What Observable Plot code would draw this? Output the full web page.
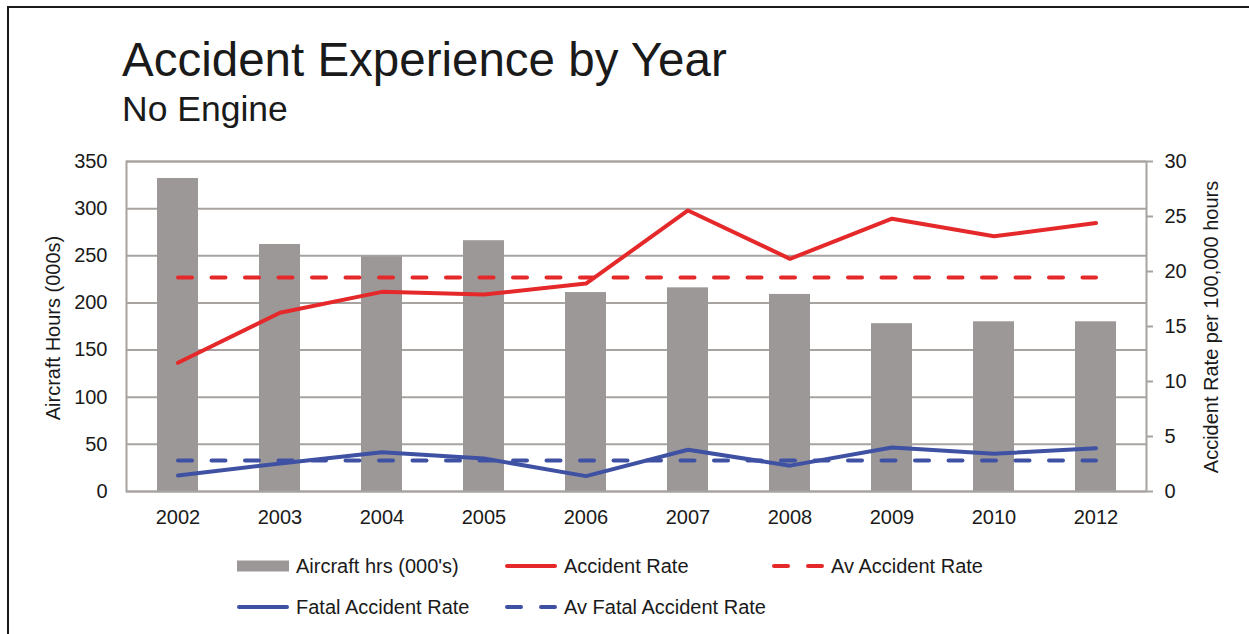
<!DOCTYPE html>
<html><head><meta charset="utf-8">
<script src="https://cdn.jsdelivr.net/npm/d3@7"></script>
<script src="https://cdn.jsdelivr.net/npm/@observablehq/plot@0.6"></script>
<style>
body{margin:0;background:#fff;font-family:"Liberation Sans",Arial,sans-serif;color:#1a1a1a;}
#wrap{position:relative;width:1249px;height:634px;overflow:hidden;background:#fff;}
#border{position:absolute;left:7px;top:6px;width:1300px;height:700px;border-left:2px solid #1a1a1a;border-top:2px solid #1a1a1a;}
#chart{position:absolute;left:0;top:0;}
.t{position:absolute;white-space:nowrap;line-height:1;}
#title{left:122px;top:36px;font-size:47.5px;}
#subtitle{left:122px;top:92px;font-size:35.5px;}
.ylab{position:absolute;white-space:nowrap;font-size:20px;line-height:1;transform:translate(-50%,-50%) rotate(-90deg);}
.leg{position:absolute;display:flex;align-items:center;height:22px;font-size:20px;white-space:nowrap;}
.leg svg{display:block;margin-right:7px;}
</style></head>
<body>
<div id="wrap">
  <div id="border"></div>
  <div id="chart"></div>
  <div class="t" id="title">Accident Experience by Year</div>
  <div class="t" id="subtitle">No Engine</div>
  <div class="ylab" style="left:53px;top:328px;">Aircraft Hours (000s)</div>
  <div class="ylab" style="left:1211px;top:327px;">Accident Rate per 100,000 hours</div>
  <div id="legend"></div>
</div>
<script>
// ---- data ----
const years = ["2002","2003","2004","2005","2006","2007","2008","2009","2010","2012"];
const aircraftHrs = [332, 262, 249, 266, 211, 216, 209, 178, 180, 180];
const accidentRate = [11.7, 16.25, 18.15, 17.9, 18.9, 25.55, 21.15, 24.8, 23.2, 24.4];
const avAccidentRate = 19.45;
const fatalRate = [1.45, 2.55, 3.57, 3.0, 1.4, 3.79, 2.35, 4.0, 3.43, 3.94];
const avFatalRate = 2.82;
const leftTicks = [0, 50, 100, 150, 200, 250, 300, 350];
const rightTicks = [0, 5, 10, 15, 20, 25, 30];
const legendLabels = ["Aircraft hrs (000's)", "Accident Rate", "Av Accident Rate", "Fatal Accident Rate", "Av Fatal Accident Rate"];

// ---- styles ----
const red = "#e5292b", blue = "#3f51a3", barColor = "#9c9897", grid = "#a7a3a1";
const k = 350 / 30; // right-axis (rate) to left-axis (hours) units

const data = years.map((y, i) => ({year: y, hrs: aircraftHrs[i], rate: accidentRate[i], fatal: fatalRate[i]}));

const chart = Plot.plot({
  width: 1249, height: 634,
  marginLeft: 126, marginRight: 103, marginTop: 161, marginBottom: 143,
  x: {type: "band", domain: years, paddingInner: 0.6, paddingOuter: 0.3, label: null},
  y: {domain: [0, 350], label: null},
  style: {fontFamily: "'Liberation Sans', Arial, sans-serif", fontSize: "20px", color: "#1a1a1a", background: "transparent", overflow: "visible"},
  marks: [
    Plot.gridY(leftTicks, {stroke: grid, strokeOpacity: 1, strokeWidth: 2}),
    Plot.barY(data, {x: "year", y: "hrs", fill: barColor}),
    Plot.frame({stroke: grid, strokeWidth: 2}),
    Plot.axisY(leftTicks, {anchor: "left", tickSize: 0, tickPadding: 19, label: null}),
    Plot.axisY(rightTicks.map(r => r * k), {anchor: "right", tickSize: 6, tickPadding: 12, stroke: grid, strokeWidth: 2, tickFormat: d => String(Math.round(d / k)), label: null}),
    Plot.axisX({tickSize: 0, tickPadding: 18, label: null}),
    Plot.lineY(data, {x: "year", y: d => d.rate * k, stroke: red, strokeWidth: 4}),
    Plot.lineY(data, {x: "year", y: () => avAccidentRate * k, stroke: red, strokeWidth: 4, strokeDasharray: "14 19.5", strokeLinecap: "round"}),
    Plot.lineY(data, {x: "year", y: d => d.fatal * k, stroke: blue, strokeWidth: 4}),
    Plot.lineY(data, {x: "year", y: () => avFatalRate * k, stroke: blue, strokeWidth: 4, strokeDasharray: "14 19.5", strokeLinecap: "round"})
  ]
});
document.getElementById("chart").appendChild(chart);

// ---- legend ----
function swatch(type, color) {
  const ns = "http://www.w3.org/2000/svg";
  const s = document.createElementNS(ns, "svg");
  s.setAttribute("width", 52); s.setAttribute("height", 14);
  if (type === "bar") {
    const r = document.createElementNS(ns, "rect");
    r.setAttribute("x", 0); r.setAttribute("y", 1.5); r.setAttribute("width", 52); r.setAttribute("height", 11);
    r.setAttribute("fill", color); s.appendChild(r);
  } else {
    const l = document.createElementNS(ns, "line");
    l.setAttribute("x1", 2); l.setAttribute("x2", 50);
    l.setAttribute("y1", 7); l.setAttribute("y2", 7);
    l.setAttribute("stroke", color); l.setAttribute("stroke-width", 4); l.setAttribute("stroke-linecap", "round");
    if (type === "dash") l.setAttribute("stroke-dasharray", "14 20");
    s.appendChild(l);
  }
  return s;
}
const legendItems = [
  {label: legendLabels[0], type: "bar", color: barColor, x: 237, y: 555},
  {label: legendLabels[1], type: "line", color: red, x: 505, y: 555},
  {label: legendLabels[2], type: "dash", color: red, x: 772, y: 555},
  {label: legendLabels[3], type: "line", color: blue, x: 237, y: 596},
  {label: legendLabels[4], type: "dash", color: blue, x: 505, y: 596}
];
const leg = document.getElementById("legend");
legendItems.forEach(it => {
  const d = document.createElement("div");
  d.className = "leg";
  d.style.left = it.x + "px"; d.style.top = it.y + "px";
  d.appendChild(swatch(it.type, it.color));
  const sp = document.createElement("span");
  sp.textContent = it.label;
  d.appendChild(sp);
  leg.appendChild(d);
});
</script>
</body></html>
